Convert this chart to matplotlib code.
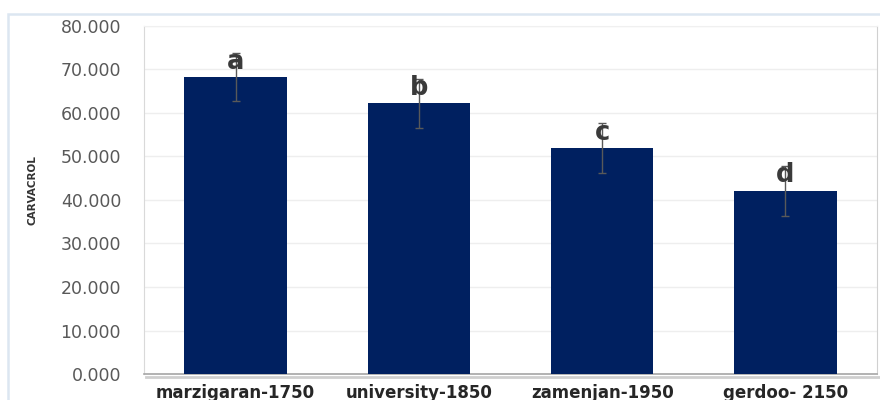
import matplotlib
matplotlib.use("Agg")
import matplotlib.pyplot as plt
from matplotlib.patches import Rectangle
from matplotlib.lines import Line2D

# Carvacrol content by site / altitude
sites = ["marzigaran-1750", "university-1850", "zamenjan-1950", "gerdoo- 2150"]
carvacrol = [68.3, 62.2, 51.9, 42.1]
std_err = [5.6, 5.7, 5.8, 5.8]
groups = ["a", "b", "c", "d"]
yticks = [0, 10, 20, 30, 40, 50, 60, 70, 80]

W, H = 880, 400
fig = plt.figure(figsize=(W / 100, H / 100), dpi=100)
fig.patch.set_facecolor("white")

# light outer chart frame
fig.patches.append(Rectangle((8 / W, -0.05), 1.2, (H - 14) / H + 0.05,
                             transform=fig.transFigure, fill=False,
                             edgecolor="#dce6f1", linewidth=1.8, zorder=0))

ax = fig.add_axes([144 / W, 26 / H, (877 - 144) / W, (374 - 26) / H])
x = range(len(sites))
ax.bar(x, carvacrol, width=0.56, color="#002060", zorder=3)
ax.errorbar(x, carvacrol, yerr=std_err, fmt="none", ecolor="#595959",
            elinewidth=1, capsize=3, capthick=1, zorder=4)

for i, (m, e, g) in enumerate(zip(carvacrol, std_err, groups)):
    ax.text(i, m + e - 3.8, g, ha="center", va="baseline", fontsize=18.5,
            fontweight="bold", color="#3a3a3a", zorder=5)

ax.set_xlim(-0.5, 3.5)
ax.set_ylim(0, 80)
ax.set_yticks(yticks)
ax.set_yticklabels([f"{v:.3f}" for v in yticks], fontsize=12.5, color="#595959")
ax.set_xticks(list(x))
ax.set_xticklabels(sites, fontsize=12, fontweight="bold", color="#262626")
ax.tick_params(axis="y", length=0, pad=16.5)
ax.tick_params(axis="x", length=0, pad=7)

ax.grid(axis="y", color="#eeeeee", linewidth=1, zorder=0)
ax.set_axisbelow(True)

ax.spines["top"].set_color("#f0f0f0")
ax.spines["left"].set_color("#d9d9d9")
ax.spines["right"].set_color("#d0d0d0")
ax.spines["bottom"].set_color("#a6a6a6")
ax.spines["bottom"].set_linewidth(1.2)

# soft shadow under the plot area
fig.lines.append(Line2D([146 / W, 879 / W], [(H - 376.5) / H] * 2,
                        transform=fig.transFigure, color="#cfcfcf",
                        linewidth=2.0, zorder=1))

fig.text(33 / W, (H - 190) / H, "CARVACROL", rotation=90, ha="center",
         va="center", fontsize=7.5, fontweight="bold", color="#333333")

fig.savefig("out.png", dpi=100, facecolor="white")
